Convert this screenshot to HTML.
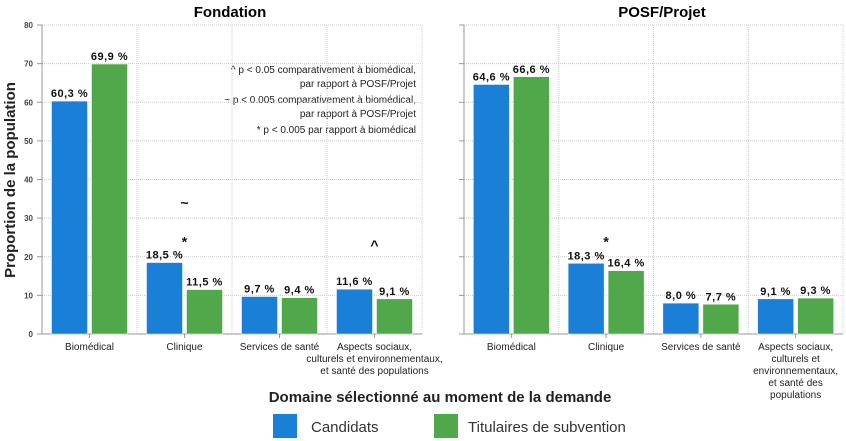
<!DOCTYPE html>
<html><head><meta charset="utf-8"><style>
body{margin:0;background:#fff;}
svg{display:block;font-family:"Liberation Sans",Arial,sans-serif;}
</style></head><body>
<svg id="chart" width="846" height="441" viewBox="0 0 846 441">
<text x="230" y="17" text-anchor="middle" font-size="15" font-weight="bold">Fondation</text>
<text x="662" y="17" text-anchor="middle" font-size="15" font-weight="bold">POSF/Projet</text>
<text transform="translate(15,180) rotate(-90)" text-anchor="middle" font-size="15" font-weight="bold" fill="#222">Proportion de la population</text>
<text x="440" y="402" text-anchor="middle" font-size="15" font-weight="bold" fill="#222">Domaine sélectionné au moment de la demande</text>
<g>
<rect x="273" y="414" width="24" height="24" fill="#1a7fd6"/>
<text x="311" y="432" font-size="15" fill="#333">Candidats</text>
<rect x="434" y="414" width="24" height="24" fill="#50a84a"/>
<text x="468" y="432" font-size="15" fill="#333">Titulaires de subvention</text>
</g>
<g font-size="10" fill="#222" text-anchor="end">
<text x="416" y="73">^ p &lt; 0.05 comparativement à biomédical,</text>
<text x="416" y="87">par rapport à POSF/Projet</text>
<text x="416" y="103">~ p &lt; 0.005 comparativement à biomédical,</text>
<text x="416" y="117">par rapport à POSF/Projet</text>
<text x="416" y="133">* p &lt; 0.005 par rapport à biomédical</text>
</g>
<g id="panels"></g>
</svg>
<script>
const categories=["Biomédical","Clinique","Services de santé","Aspects sociaux, culturels et environnementaux, et santé des populations"];
const fondationCandidats=[60.3,18.5,9.7,11.6];
const fondationTitulaires=[69.9,11.5,9.4,9.1];
const posfCandidats=[64.6,18.3,8.0,9.1];
const posfTitulaires=[66.6,16.4,7.7,9.3];
const yTicks=[0,10,20,30,40,50,60,70,80];
const fondationLabelLines=[["Biomédical"],["Clinique"],["Services de santé"],["Aspects sociaux,","culturels et environnementaux,","et santé des populations"]];
const posfLabelLines=[["Biomédical"],["Clinique"],["Services de santé"],["Aspects sociaux,","culturels et","environnementaux,","et santé des","populations"]];
const fondationMarks=[[],[{t:"~",v:34},{t:"*",v:24}],[],[{t:"^",v:23}]];
const posfMarks=[[],[{t:"*",v:24}],[],[]];
const NS="http://www.w3.org/2000/svg";
const root=document.getElementById("panels");
function mk(tag,attrs,parent){const e=document.createElementNS(NS,tag);for(const k in attrs)e.setAttribute(k,attrs[k]);parent.appendChild(e);return e;}
const y0=334,y1=25,yMax=80;
function yScale(v){return y0-(v/yMax)*(y0-y1);}
function fmt(v){return v.toFixed(1).replace(".",",")+" %";}
function panel(name,x0,x1,cand,tit,labels,marks,showTicks){
  const g=mk("g",{},root);
  
  
  const bw=(x1-x0)/categories.length;
  yTicks.forEach(t=>{
    const y=yScale(t);
    if(t>0){const l=mk("line",{x1:x0,x2:x1,y1:y,y2:y,stroke:"#ccc","stroke-dasharray":"1,1"},g);
      
      }
    mk("line",{x1:x0-5,x2:x0,y1:y,y2:y,stroke:"#999"},g);
    if(showTicks){const tx=mk("text",{x:x0-9,y:y+3,"text-anchor":"end","font-size":"8","font-weight":"bold",fill:"#444"},g);
      
      
      tx.textContent=t;}
  });
  for(let i=1;i<=categories.length;i++){mk("line",{x1:x0+bw*i,x2:x0+bw*i,y1:y1,y2:y0,stroke:"#ccc","stroke-dasharray":"1,1"},g);}
  mk("line",{x1:x0,x2:x0,y1:y1,y2:y0,stroke:"#999"},g);
  mk("line",{x1:x0-5,x2:x1,y1:y0,y2:y0,stroke:"#999"},g);
  categories.forEach((c,i)=>{
    const cx=x0+bw*(i+0.5);
    [[cand[i],cx-38,"#1a7fd6","candidats"],[tit[i],cx+2,"#50a84a","titulaires"]].forEach(([v,bx,col,s])=>{
      const r=mk("rect",{x:bx,y:yScale(v),width:36,height:y0-yScale(v),fill:col,stroke:"#fff","stroke-width":"0.5"},g);
      
      
      const t=mk("text",{x:bx+18,y:yScale(v)-4,"text-anchor":"middle","font-size":"11","font-weight":"bold","letter-spacing":"0.5",fill:"#111"},g);
      
      
      t.textContent=fmt(v);
    });
    mk("line",{x1:cx,x2:cx,y1:y0,y2:y0+4,stroke:"#999"},g);
    labels[i].forEach((ln,j)=>{
      const t=mk("text",{x:cx+(labels[i].length>1&&name==="fondation"?(j==0?0:0):0),y:y0+16+j*12,"text-anchor":"middle","font-size":"10",fill:"#222"},g);
      
      
      t.textContent=ln;
    });
    marks[i].forEach(m=>{
      const t=mk("text",{x:cx,y:yScale(m.v)+5,"text-anchor":"middle","font-size":"14","font-weight":"bold",fill:"#111"},g);
      
      
      t.textContent=m.t;
    });
  });
}
panel("fondation",42,422,fondationCandidats,fondationTitulaires,fondationLabelLines,fondationMarks,true);
panel("posf",464,843,posfCandidats,posfTitulaires,posfLabelLines,posfMarks,false);
</script>
</body></html>
